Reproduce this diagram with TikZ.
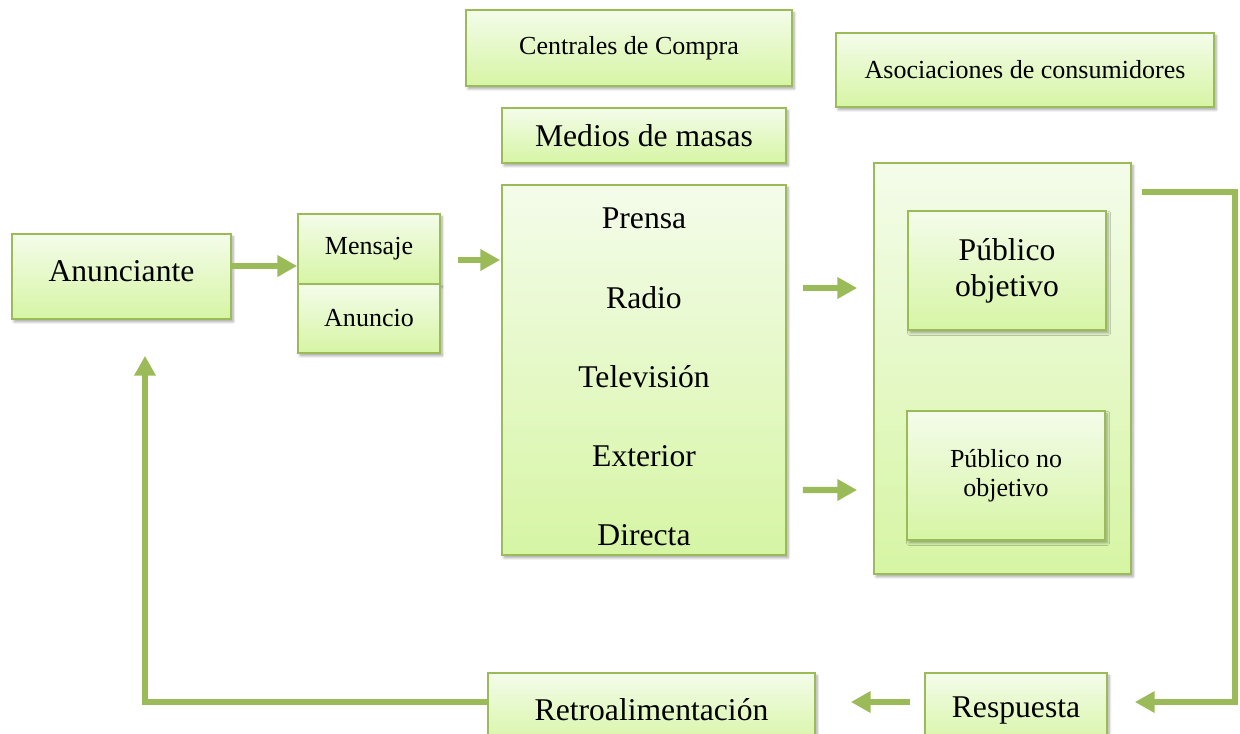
\documentclass[tikz,border=0pt]{standalone}
\usepackage{fontspec}
\setmainfont{Liberation Serif}
\usepackage{tikz}
\usetikzlibrary{arrows.meta,positioning,calc,shadows.blur}
\tikzset{every node/.append style={align=center}}
\definecolor{boxline}{RGB}{155,187,89}
\definecolor{boxtop}{RGB}{244,252,234}
\definecolor{boxbot}{RGB}{214,245,164}

\begin{document}
\begin{tikzpicture}[
    x=0.025cm, y=-0.025cm,
    block/.style 2 args={draw=boxline, line width=1.2pt, top color=boxtop, bottom color=boxbot,
        minimum width=#1*0.025cm, minimum height=#2*0.025cm, inner sep=0pt,
        blur shadow={shadow xshift=1.5pt, shadow yshift=-2pt, shadow blur steps=6, shadow opacity=35}},
    big/.style={font=\fontsize{22.5}{26}\selectfont},
    small/.style={font=\fontsize{18.5}{21}\selectfont},
    arrow/.style={draw=boxline, line width=4.3pt, -{Triangle[width=14.5pt, length=14pt]}}
]
    \clip (0,0) rectangle (1240,733);
    \useasboundingbox (0,0) rectangle (1240,733);

    % Top boxes
    \node[block={326}{76}, small, text depth=4pt] (centrales) at (629,48) {Centrales de Compra};
    \node[block={378}{74}, small] (asociaciones) at (1025,70) {Asociaciones de consumidores};
    \node[block={284}{55}, big] (masas) at (644,135.5) {Medios de masas};

    % Media channels
    \node[block={284}{370}] (canales) at (644,370) {};
    \foreach \name/\txt/\y in {prensa/Prensa/218, radio/Radio/298, tele/Televisión/377,
                               exterior/Exterior/456, directa/Directa/535}
        \node[big] (\name) at (644,\y) {\txt};

    % Audience
    \node[block={257}{411}] (publico) at (1002.5,368.5) {};
    \node[block={198}{119}, font=\fontsize{22.5}{25.5}\selectfont] (objetivo) at (1007,270.5) {Público\\objetivo};
    \node[block={198}{129}, font=\fontsize{18.5}{21}\selectfont] (noobjetivo) at (1006,475.5) {Público no\\objetivo};

    % Sender and message
    \node[block={219}{85}, big, text depth=8pt] (anunciante) at (121.5,276.5) {Anunciante};
    \node[block={142}{70}, small] (mensaje) at (369,249) {Mensaje};
    \node[block={142}{69}, small] (anuncio) at (369,318.5) {Anuncio};

    % Bottom row
    \node[block={327}{74}, big] (retro) at (651.5,710) {Retroalimentación};
    \node[block={182}{74}, big] (respuesta) at (1016,710) {Respuesta};

    % Connectors
    \draw[arrow] ($(anunciante.east)+(0,-10.5)$) -- ($(mensaje.west)+(0,17)$);
    \draw[arrow] ($(mensaje.east)+(17,11)$) -- ($(canales.west)+(-1,-110)$);
    \draw[arrow] ($(canales.east)+(16,-82)$) -- ($(publico.west)+(-16,-80.5)$);
    \draw[arrow] ($(canales.east)+(16,120)$) -- ($(publico.west)+(-16,121.5)$);
    \draw[arrow] ($(publico.north east)+(10,30)$) -- ++(93,0) |- ($(respuesta.east)+(27,-8)$);
    \draw[arrow] ($(respuesta.west)+(-14,-8)$) -- ($(retro.east)+(35,-8)$);
    \draw[arrow] ($(retro.west)+(0,-8)$) -| ($(anunciante.south)+(23.5,36)$);
\end{tikzpicture}
\end{document}
